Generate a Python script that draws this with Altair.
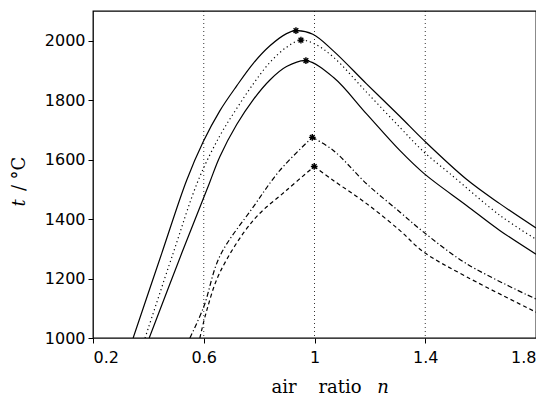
import altair as alt
import pandas as pd

# ---- data ----
c1_x = [0.345, 0.448, 0.538, 0.598, 0.658, 0.719, 0.779, 0.839, 0.899, 0.933, 0.994, 1.068, 1.188, 1.308, 1.396, 1.549, 1.669, 1.8]
c1_y = [1000, 1284, 1530, 1660, 1764, 1848, 1924, 1983, 2024, 2034, 2022, 1966, 1855, 1746, 1664, 1534, 1452, 1370]

c2_x = [0.388, 0.489, 0.580, 0.658, 0.719, 0.779, 0.839, 0.899, 0.951, 1.001, 1.068, 1.188, 1.308, 1.396, 1.489, 1.669, 1.8]
c2_y = [1000, 1284, 1530, 1680, 1772, 1855, 1927, 1978, 2002, 1989, 1945, 1827, 1709, 1625, 1553, 1413, 1332]

c3_x = [0.403, 0.520, 0.620, 0.658, 0.719, 0.779, 0.839, 0.899, 0.969, 1.068, 1.188, 1.308, 1.396, 1.549, 1.669, 1.8]
c3_y = [1000, 1284, 1520, 1610, 1718, 1802, 1868, 1913, 1933, 1877, 1754, 1631, 1553, 1446, 1362, 1282]

c4_x = [0.550, 0.600, 0.658, 0.779, 0.875, 0.992, 1.068, 1.188, 1.308, 1.393, 1.549, 1.8]
c4_y = [1000, 1105, 1275, 1441, 1564, 1675, 1631, 1519, 1424, 1357, 1250, 1131]

c5_x = [0.586, 0.610, 0.658, 0.779, 0.899, 0.999, 1.068, 1.188, 1.308, 1.393, 1.549, 1.8]
c5_y = [1000, 1090, 1220, 1396, 1497, 1577, 1530, 1452, 1362, 1290, 1206, 1087]

peak_x = [0.933, 0.951, 0.969, 0.992, 0.999]
peak_y = [2034, 2002, 1933, 1675, 1577]

grid_x = [0.6, 1.0, 1.4]
x_ticks = [0.2, 0.6, 1.0, 1.4, 1.8]
y_ticks = [1000, 1200, 1400, 1600, 1800, 2000]

X_DOMAIN = [0.2, 1.8]
Y_DOMAIN = [1000, 2100]

xs = alt.Scale(domain=X_DOMAIN, nice=False, zero=False)
ys = alt.Scale(domain=Y_DOMAIN, nice=False, zero=False)

x_axis = alt.Axis(values=x_ticks, format="~g", title=None, grid=False, domain=False,
                  tickColor="black", tickSize=5, tickWidth=1, labelPadding=6,
                  labelFont="DejaVu Sans", labelFontSize=16, labelColor="black")
y_axis = alt.Axis(values=y_ticks, format="d", title=None, grid=False, domain=False,
                  tickColor="black", tickSize=5, tickWidth=1, labelPadding=3,
                  labelFont="DejaVu Sans", labelFontSize=16, labelColor="black")


def curve(xv, yv, dash):
    df = pd.DataFrame({"n": xv, "t": yv})
    kw = dict(color="black", strokeWidth=1.2, interpolate="catmull-rom", clip=True)
    if dash:
        kw["strokeDash"] = dash
    return alt.Chart(df).mark_line(**kw).encode(
        x=alt.X("n:Q", scale=xs, axis=x_axis),
        y=alt.Y("t:Q", scale=ys, axis=y_axis),
    )


def peaked(xv, yv, dash):
    # sharp maximum: draw the two branches separately
    i = yv.index(max(yv))
    return [curve(xv[: i + 1], yv[: i + 1], dash), curve(xv[i:], yv[i:], dash)]


grid = alt.Chart(pd.DataFrame({"g": grid_x})).mark_rule(
    color="black", strokeWidth=0.8, strokeDash=[1, 3]
).encode(x=alt.X("g:Q", scale=xs, axis=x_axis))

lines = [
    curve(c1_x, c1_y, None),
    curve(c2_x, c2_y, [1.2, 3]),
    curve(c3_x, c3_y, None),
    *peaked(c4_x, c4_y, [5, 2.5, 1.2, 2.5]),
    *peaked(c5_x, c5_y, [4, 3]),
]

asterisk = "M-1,0L1,0M0,-1L0,1M-0.7,-0.7L0.7,0.7M-0.7,0.7L0.7,-0.7"
peaks = alt.Chart(pd.DataFrame({"n": peak_x, "t": peak_y})).mark_point(
    shape=asterisk, size=45, stroke="black", strokeWidth=1.4, filled=False, opacity=1
).encode(x=alt.X("n:Q", scale=xs, axis=x_axis), y=alt.Y("t:Q", scale=ys, axis=y_axis))


def label(txt, px, py, italic=False, angle=0, size=18):
    kw = dict(text=txt, font="DejaVu Serif", fontSize=size, color="black",
              align="center", baseline="middle")
    if italic:
        kw["fontStyle"] = "italic"
    if angle:
        kw["angle"] = angle
    return alt.Chart(pd.DataFrame({"a": [0]})).mark_text(**kw).encode(
        x=alt.value(px), y=alt.value(py))


titles = [
    label("air", 191, 377),
    label("ratio", 247, 377),
    label("n", 290, 377, italic=True),
    label("t", -73, 192, italic=True, angle=270),
    label("/", -73, 177, angle=270),
    label("°C", -73, 157, angle=270),
]

chart = alt.layer(grid, *lines, peaks, *titles).properties(
    width=443, height=327,
    autosize=alt.AutoSizeParams(type="none"),
    padding={"left": 85, "top": 3, "right": 0, "bottom": 62},
).configure_view(stroke="black", strokeWidth=1.3)

chart.save("out.html", embed_options={"renderer": "svg", "actions": False})
